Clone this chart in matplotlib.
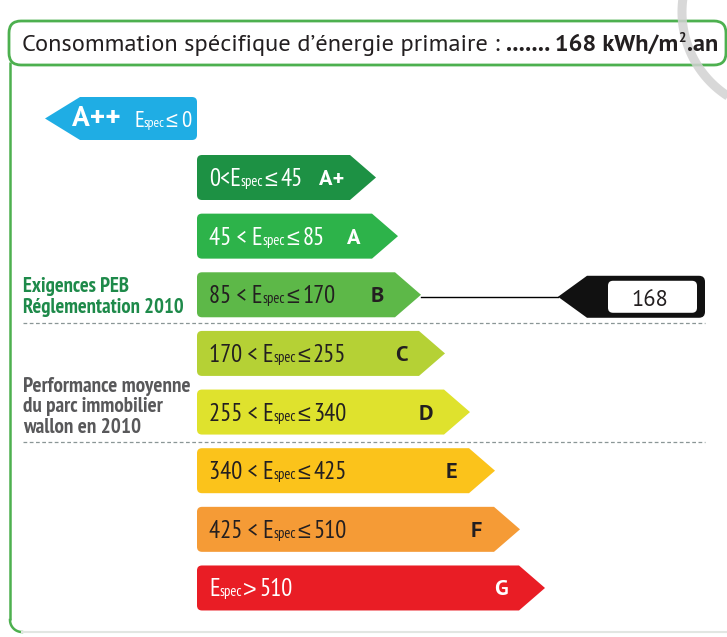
import numpy as np
import matplotlib
matplotlib.use('Agg')
import matplotlib.pyplot as plt
from matplotlib.path import Path
from matplotlib.patches import PathPatch, FancyBboxPatch
from matplotlib import font_manager as fm

# ---------------- data ----------------
classes = ['A+', 'A', 'B', 'C', 'D', 'E', 'F', 'G']
lower = [0, 45, 85, 170, 255, 340, 425, 510]
upper = [45, 85, 170, 255, 340, 425, 510, None]
class_colors = ['#1d9144', '#2db34a', '#5db848', '#b5d135', '#dfe22d',
                '#fbc31b', '#f59b36', '#e91d25']
text_on_dark = [True, True, False, False, False, False, False, True]
top_class = 'A++'
top_upper = 0
top_color = '#1fade4'
value = 168
header_label = 'Consommation spécifique d’énergie primaire :'
header_value = '....... 168 kWh/m'
peb_label = ['Exigences PEB', 'Réglementation 2010']
avg_label = ['Performance moyenne', 'du parc immobilier', 'wallon en 2010']

# ---------------- layout / style ----------------
bar_tips = [376, 398, 421, 445, 470, 495, 520, 545]
W, H = 727, 637

fam_weights = {}
for f in fm.fontManager.ttflist:
    if f.style != 'normal':
        continue
    w = f.weight if isinstance(f.weight, (int, float)) else {'bold': 700, 'normal': 400, 'regular': 400}.get(str(f.weight), 400)
    fam_weights.setdefault(f.name, set()).add(int(w))


def pick(*cands):
    for c in cands:
        ws = fam_weights.get(c, set())
        if 400 in ws and any(w >= 700 for w in ws):
            return c
    return 'DejaVu Sans'


COND = pick('PT Sans Narrow', 'Roboto Condensed', 'Fira Sans Condensed',
            'Barlow Condensed', 'Archivo Narrow', 'Asap Condensed')
HEAD = pick('PT Sans', 'Source Sans Pro', 'Fira Sans', 'Open Sans', 'Noto Sans')
BOLD = HEAD
SYM = pick('Liberation Sans', 'DejaVu Sans')
DARK = '#231f20'
GREEN = '#4db04f'

fig = plt.figure(figsize=(W / 100, H / 100), dpi=100)
ax = fig.add_axes([0, 0, 1, 1])
ax.set_xlim(0, W)
ax.set_ylim(H, 0)
ax.axis('off')
renderer = fig.canvas.get_renderer()


def draw_pieces(x, y, pieces, family, color, size, target=None, zorder=5):
    """pieces: (text, scale, weight, dy_px, gap_after_px[, family])"""
    def render(sz):
        arts = []
        cx = x
        for pc in pieces:
            s, sc, wt, dy, gap = pc[:5]
            fam = pc[5] if len(pc) > 5 else family
            t = ax.text(cx, y + dy, s, fontsize=sz * sc, fontweight=wt,
                        family=fam, color=color, va='baseline', ha='left',
                        zorder=zorder)
            cx += t.get_window_extent(renderer).width + gap
            arts.append(t)
        return arts, cx - x
    arts, w = render(size)
    if target is not None:
        for a in arts:
            a.remove()
        arts, w = render(size * target / w)
    return arts


def arrow_path(xl, xr, tip, yc, h, r, point='right'):
    top, bot = yc - h / 2, yc + h / 2
    M, L, C, Z = Path.MOVETO, Path.LINETO, Path.CURVE3, Path.CLOSEPOLY
    if point == 'right':
        verts = [(xl + r, top), (xr, top), (tip, yc), (xr, bot), (xl + r, bot),
                 (xl, bot), (xl, bot - r), (xl, top + r), (xl, top), (xl + r, top), (0, 0)]
    else:
        verts = [(xr - r, top), (xl, top), (tip, yc), (xl, bot), (xr - r, bot),
                 (xr, bot), (xr, bot - r), (xr, top + r), (xr, top), (xr - r, top), (0, 0)]
    codes = [M, L, L, L, L, C, C, L, C, C, Z]
    return Path(verts, codes)


def espec_pieces(prefix, op, suffix, sep=' '):
    out = []
    if prefix:
        out.append((prefix + sep + 'E', 1, 'normal', 0, 0))
    else:
        out.append(('E', 1, 'normal', 0, 0))
    out.append(('spec', 0.6, 'normal', 0, 1.0))
    out.append((op, 0.95, 'normal', 0, 3.0, SYM))
    out.append((suffix, 1, 'normal', 0, 0))
    return out


# ---------------- frame ----------------
ax.plot([10, 10], [62, 620], color=GREEN, lw=1.8, solid_capstyle='butt', zorder=1)
th = np.linspace(np.pi, np.pi / 2, 20)
ax.plot(22 + 12 * np.cos(th), 620 + 12 * np.sin(th), color=GREEN, lw=1.8, zorder=1)
ax.plot([22, W], [632, 632], color='#e2e6e2', lw=1.5, zorder=1)

hdr = FancyBboxPatch((9, 21), 717, 44, boxstyle='round,pad=0,rounding_size=12',
                     fc='white', ec=GREEN, lw=2.0, zorder=2)
ax.add_patch(hdr)
# watermark-like grey arc in the corner
th = np.radians(np.linspace(112, 200, 60))
ax.plot(782 + 100 * np.cos(th), 12 + 100 * np.sin(th), color='#d2d2d2', lw=6.5,
        alpha=0.85, solid_capstyle='butt', zorder=3)

draw_pieces(22, 51, [(header_label, 1, 'normal', 0, 6),
                     (header_value, 1, 'bold', 0, 0.5),
                     ('2', 0.55, 'bold', -9, 0.5),
                     ('.an', 1, 'bold', 0, 0)],
            HEAD, DARK, 16, target=697)

# ---------------- A++ arrow ----------------
yc0 = 118.5
ax.add_patch(PathPatch(arrow_path(80, 197, 45, yc0, 43, 5, point='left'),
                       fc=top_color, ec='none', zorder=4))
draw_pieces(72, yc0 + 7.5, [(top_class, 1, 'bold', 0, 0)], BOLD, 'white', 16, target=49)
draw_pieces(134, yc0 + 8.5, espec_pieces('', '≤', f'{top_upper}'),
            COND, 'white', 17, target=57)

# ---------------- class bars ----------------
y_first, step, bh = 177.5, 58.64, 45
centers = [y_first + i * step for i in range(len(classes))]

# common text size for bar labels
probe = draw_pieces(0, -100, espec_pieces('85 <', '≤', '170'), COND, DARK, 17, target=127)
bar_fs = probe[0].get_fontsize()
for p in probe:
    p.remove()

for i, cls in enumerate(classes):
    yc = centers[i]
    tip = bar_tips[i]
    ax.add_patch(PathPatch(arrow_path(197, tip - 26, tip, yc, bh, 5),
                           fc=class_colors[i], ec='none', zorder=4))
    col = 'white' if text_on_dark[i] else DARK
    lo, hi = lower[i], upper[i]
    if hi is None:
        pieces = espec_pieces('', '>', f'{lo}')
    elif lo == 0:
        pieces = espec_pieces(f'{lo}<', '≤', f'{hi}', sep='')
    else:
        pieces = espec_pieces(f'{lo} <', '≤', f'{hi}')
    draw_pieces(209, yc + 8.5, pieces, COND, col, bar_fs)
    ax.text(tip - 44, yc + 7.5, cls, fontsize=16, fontweight='bold', family=BOLD,
            color=col, va='baseline', ha='center', zorder=5)

# ---------------- value marker ----------------
idx = next(i for i in range(len(lower))
           if value > lower[i] and (upper[i] is None or value <= upper[i]))
ym = centers[idx] + 2
ax.plot([bar_tips[idx], 558], [ym, ym], color='black', lw=1.0, zorder=3)
ax.add_patch(PathPatch(arrow_path(587, 705, 558, ym, 42, 6, point='left'),
                       fc='#111111', ec='none', zorder=4))
ax.add_patch(FancyBboxPatch((608, ym - 16), 89, 32,
                            boxstyle='round,pad=0,rounding_size=5',
                            fc='white', ec='none', zorder=5))
draw_pieces(631, ym + 9.5, [(str(value), 1, 'normal', 0, 0)], HEAD, DARK, 18, target=37,
            zorder=6)

# ---------------- separators & side labels ----------------
for yd in (323, 442):
    ax.plot([23, 705], [yd, yd], color='#8a9696', lw=0.9, ls=(0, (3, 2)), zorder=3)

pk = draw_pieces(23, 313, [(peb_label[1], 1, 'bold', 0, 0)], COND, '#1e8a4a', 14, target=162)
pfs = pk[0].get_fontsize()
ax.text(23, 292, peb_label[0], fontsize=pfs, fontweight='bold', family=COND,
        color='#1e8a4a', va='baseline', ha='left', zorder=5)

gk = draw_pieces(23, 392, [(avg_label[0], 1, 'bold', 0, 0)], COND, '#58585a', 14, target=168)
gfs = gk[0].get_fontsize()
for j, line in enumerate(avg_label[1:]):
    ax.text(23, 412.5 + 20.5 * j, line, fontsize=gfs, fontweight='bold', family=COND,
            color='#58585a', va='baseline', ha='left', zorder=5)

fig.savefig('out.png', dpi=100, facecolor='white')
